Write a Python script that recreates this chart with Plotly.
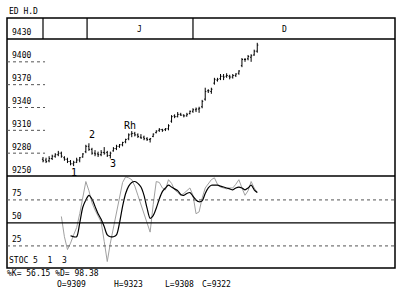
import plotly.graph_objects as go

# ---------------- data ----------------
bar_index = list(range(71))
opens = [9272, 9271, 9270, 9273, 9276, 9278, 9280, 9274, 9272, 9269,
         9266, 9268, 9271, 9275, 9282, 9289, 9285, 9280, 9279, 9278,
         9281, 9281, 9277, 9283, 9286, 9289, 9291, 9295, 9299, 9305,
         9306, 9304, 9301, 9301, 9299, 9298, 9302, 9307, 9310, 9311,
         9311, 9312, 9322, 9329, 9328, 9331, 9330, 9329, 9332, 9335,
         9337, 9338, 9341, 9351, 9362, 9361, 9372, 9376, 9378, 9381,
         9381, 9381, 9380, 9382, 9385, 9395, 9403, 9404, 9406, 9409, 9414]
highs = [9275, 9274, 9276, 9278, 9280, 9283, 9282, 9276, 9274, 9271,
         9270, 9274, 9275, 9280, 9291, 9293, 9287, 9284, 9282, 9284,
         9288, 9283, 9282, 9288, 9291, 9292, 9295, 9299, 9306, 9309,
         9308, 9306, 9305, 9303, 9301, 9300, 9306, 9310, 9313, 9312,
         9313, 9318, 9330, 9331, 9334, 9333, 9331, 9333, 9336, 9339,
         9340, 9341, 9350, 9366, 9364, 9366, 9379, 9379, 9384, 9384,
         9385, 9383, 9384, 9385, 9389, 9405, 9405, 9409, 9410, 9416, 9425]
lows = [9268, 9267, 9268, 9271, 9274, 9276, 9274, 9270, 9267, 9264,
        9263, 9267, 9268, 9274, 9280, 9283, 9278, 9276, 9275, 9276,
        9278, 9275, 9273, 9282, 9284, 9287, 9289, 9293, 9297, 9301,
        9302, 9300, 9299, 9297, 9296, 9294, 9301, 9306, 9308, 9308,
        9309, 9310, 9320, 9326, 9327, 9329, 9327, 9328, 9331, 9333,
        9334, 9333, 9339, 9349, 9359, 9358, 9370, 9374, 9376, 9376,
        9379, 9377, 9378, 9380, 9383, 9393, 9400, 9402, 9400, 9408, 9412]
closes = [9270, 9269, 9273, 9276, 9278, 9280, 9276, 9272, 9269, 9266,
          9268, 9271, 9274, 9279, 9289, 9285, 9280, 9279, 9278, 9281,
          9280, 9277, 9280, 9286, 9289, 9291, 9294, 9298, 9304, 9306,
          9304, 9302, 9300, 9299, 9298, 9299, 9305, 9309, 9311, 9310,
          9312, 9316, 9328, 9328, 9331, 9330, 9329, 9331, 9335, 9337,
          9338, 9339, 9348, 9361, 9362, 9364, 9377, 9377, 9381, 9380,
          9382, 9380, 9382, 9384, 9388, 9403, 9403, 9407, 9408, 9414, 9422]

k_index = list(range(6, 71))
stoch_k = [57, 35, 21, 28, 37, 45, 60, 78, 95, 85,
           72, 64, 58, 51, 30, 8, 28, 45, 62, 80,
           94, 100, 99, 97, 90, 80, 70, 60, 50, 40,
           70, 95, 94, 88, 86, 97, 93, 86, 83, 80,
           82, 85, 88, 80, 60, 62, 77, 88, 93, 97,
           99, 92, 89, 88, 87, 88, 88, 92, 97, 88,
           80, 85, 95, 88, 83]
d_index = list(range(9, 71))
stoch_d = [36, 35, 35, 50, 67, 75, 80, 76, 68, 60,
           54, 46, 37, 35, 35, 37, 50, 68, 82, 90,
           94, 95, 93, 89, 80, 66, 55, 58, 66, 76,
           84, 88, 91, 89, 87, 85, 81, 80, 82, 83,
           79, 75, 73, 74, 82, 88, 91, 91, 91, 90,
           89, 88, 87, 86, 88, 89, 88, 86, 88, 91,
           86, 83]

price_ticks = [9250, 9280, 9310, 9340, 9370, 9400, 9430]
stoch_ticks = [25, 50, 75]
month_labels = ["J", "D"]
month_label_pos = [31.5, 79]
month_dividers = [0, 14.4, 49]
wave_labels = ["1", "2", "3", "Rh"]
wave_x = [10, 16, 22.9, 28.4]
wave_y = [9255, 9304, 9267, 9317]

title_text = "ED H.D"
stoc_text = "STOC 5  1  3"
kd_text = "%K= 56.15 %D= 98.38"
ohlc_texts = ["O=9309", "H=9323", "L=9308", "C=9322"]
ohlc_text_x = [0.124, 0.271, 0.402, 0.497]

# ---------------- figure ----------------
FONT = "DejaVu Sans Mono"
fig = go.Figure()
fig.add_trace(go.Ohlc(x=bar_index, open=opens, high=highs, low=lows, close=closes,
                      increasing_line_color="black", decreasing_line_color="black",
                      line_width=1, tickwidth=0.35, xaxis="x", yaxis="y",
                      showlegend=False, hoverinfo="skip"))
fig.add_trace(go.Scatter(x=k_index, y=stoch_k, mode="lines", xaxis="x", yaxis="y2",
                         line=dict(color="#a0a0a0", width=1), showlegend=False,
                         hoverinfo="skip"))
fig.add_trace(go.Scatter(x=d_index, y=stoch_d, mode="lines", xaxis="x", yaxis="y2",
                         line=dict(color="black", width=1.2, shape="spline", smoothing=0.8),
                         showlegend=False, hoverinfo="skip"))

P_BOT, P_TOP = 0.368, 0.916

shapes = []
# frame
shapes.append(dict(type="rect", xref="paper", yref="paper", x0=0, x1=1, y0=0, y1=1,
                   line=dict(color="black", width=1.5)))
shapes.append(dict(type="line", xref="paper", yref="paper", x0=0, x1=1, y0=P_TOP, y1=P_TOP,
                   line=dict(color="black", width=1.5)))
shapes.append(dict(type="line", xref="paper", yref="paper", x0=0, x1=1, y0=P_BOT, y1=P_BOT,
                   line=dict(color="black", width=1.5)))
for xd in month_dividers:
    shapes.append(dict(type="line", xref="x", yref="paper", x0=xd, x1=xd, y0=P_TOP, y1=1,
                       line=dict(color="black", width=1.2)))
for t in price_ticks[1:-1]:
    shapes.append(dict(type="line", xref="paper", yref="y", x0=0, x1=0.098, y0=t, y1=t,
                       line=dict(color="#555", width=1, dash="dot")))
for t in stoch_ticks:
    shapes.append(dict(type="line", xref="paper", yref="y2", x0=0, x1=1, y0=t, y1=t,
                       line=dict(color="black" if t == 50 else "#555",
                                 width=1.2 if t == 50 else 1,
                                 dash="solid" if t == 50 else "dot")))

ann = []
af = dict(family=FONT, size=8, color="black")
ann.append(dict(text=title_text, xref="paper", yref="paper", x=0.0, y=1.024,
                xanchor="left", yanchor="middle", showarrow=False, font=af))
for t in price_ticks:
    ann.append(dict(text=str(t), xref="paper", yref="y", x=0.008, y=t, yshift=6,
                    xanchor="left", yanchor="middle", showarrow=False, font=af))
for t in stoch_ticks:
    ann.append(dict(text=str(t), xref="paper", yref="y2", x=0.008, y=t, yshift=6,
                    xanchor="left", yanchor="middle", showarrow=False, font=af))
for lab, xp in zip(month_labels, month_label_pos):
    ann.append(dict(text=lab, xref="x", yref="paper", x=xp, y=0.956,
                    xanchor="center", yanchor="middle", showarrow=False, font=af))
for lab, xp, yp in zip(wave_labels, wave_x, wave_y):
    ann.append(dict(text=lab, xref="x", yref="y", x=xp, y=yp,
                    xanchor="center", yanchor="middle", showarrow=False,
                    font=dict(family=FONT, size=10, color="black")))
ann.append(dict(text=stoc_text, xref="paper", yref="paper", x=0.0, y=0.03,
                xanchor="left", yanchor="middle", showarrow=False, font=af))
ann.append(dict(text=kd_text, xref="paper", yref="paper", x=-0.005, y=-0.02,
                xanchor="left", yanchor="middle", showarrow=False, font=af))
for txt, xp in zip(ohlc_texts, ohlc_text_x):
    ann.append(dict(text=txt, xref="paper", yref="paper", x=xp, y=-0.064,
                    xanchor="left", yanchor="middle", showarrow=False, font=af))

fig.update_layout(
    width=400, height=291,
    margin=dict(l=7, r=5, t=18, b=23),
    paper_bgcolor="white", plot_bgcolor="white",
    xaxis=dict(range=[-11.76, 115.0], visible=False, rangeslider=dict(visible=False),
               anchor="y2", fixedrange=True),
    yaxis=dict(domain=[P_BOT, P_TOP], range=[9250, 9430], visible=False, anchor="x"),
    yaxis2=dict(domain=[0, P_BOT], range=[1, 101], visible=False, anchor="x"),
    shapes=shapes, annotations=ann, showlegend=False,
)
fig.write_html("out.html")
